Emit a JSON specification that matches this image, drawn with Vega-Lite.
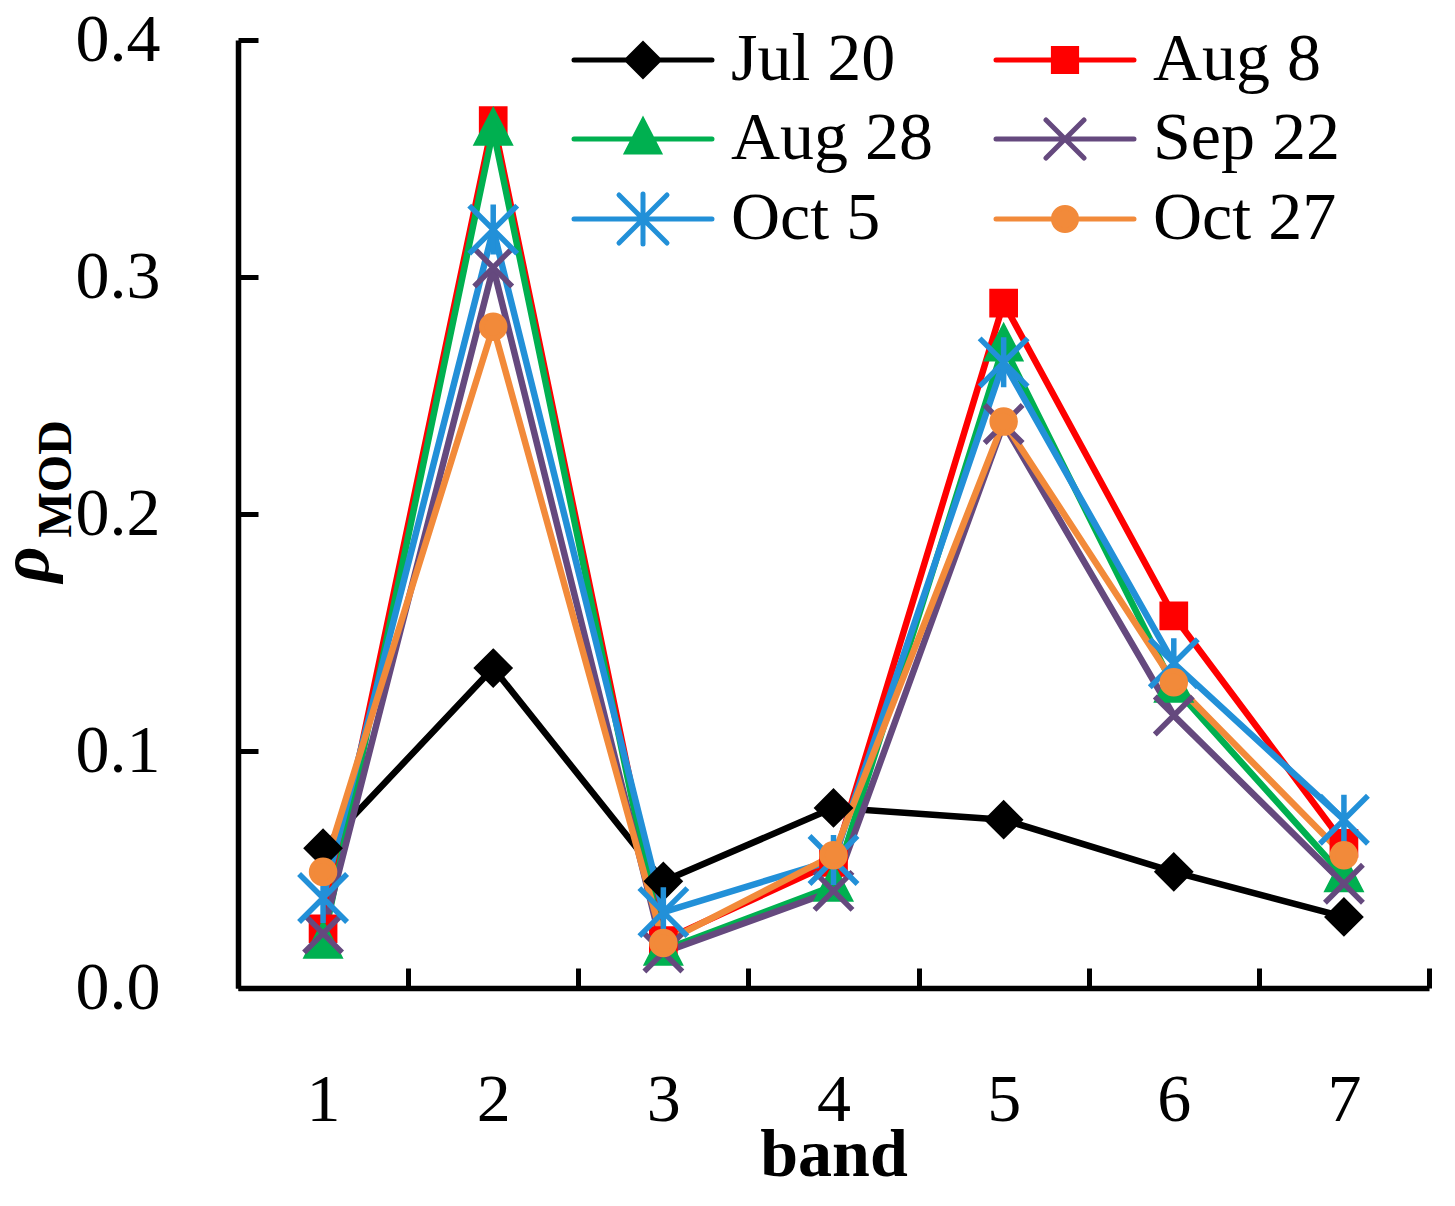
{
  "$schema": "https://vega.github.io/schema/vega-lite/v6.json",
  "width": 1191,
  "height": 948,
  "autosize": {"type": "none"},
  "padding": {"left": 238, "top": 40, "right": 26, "bottom": 218},
  "background": "white",
  "config": {"view": {"stroke": null}},
  "data": {"values": [
    {"band": 1, "date": "Jul 20", "v": 0.059}, {"band": 2, "date": "Jul 20", "v": 0.135}, {"band": 3, "date": "Jul 20", "v": 0.045}, {"band": 4, "date": "Jul 20", "v": 0.076}, {"band": 5, "date": "Jul 20", "v": 0.071}, {"band": 6, "date": "Jul 20", "v": 0.049}, {"band": 7, "date": "Jul 20", "v": 0.030},
    {"band": 1, "date": "Aug 8", "v": 0.025}, {"band": 2, "date": "Aug 8", "v": 0.366}, {"band": 3, "date": "Aug 8", "v": 0.020}, {"band": 4, "date": "Aug 8", "v": 0.053}, {"band": 5, "date": "Aug 8", "v": 0.289}, {"band": 6, "date": "Aug 8", "v": 0.157}, {"band": 7, "date": "Aug 8", "v": 0.061},
    {"band": 1, "date": "Aug 28", "v": 0.019}, {"band": 2, "date": "Aug 28", "v": 0.362}, {"band": 3, "date": "Aug 28", "v": 0.016}, {"band": 4, "date": "Aug 28", "v": 0.043}, {"band": 5, "date": "Aug 28", "v": 0.271}, {"band": 6, "date": "Aug 28", "v": 0.127}, {"band": 7, "date": "Aug 28", "v": 0.047},
    {"band": 1, "date": "Sep 22", "v": 0.023}, {"band": 2, "date": "Sep 22", "v": 0.304}, {"band": 3, "date": "Sep 22", "v": 0.015}, {"band": 4, "date": "Sep 22", "v": 0.041}, {"band": 5, "date": "Sep 22", "v": 0.238}, {"band": 6, "date": "Sep 22", "v": 0.115}, {"band": 7, "date": "Sep 22", "v": 0.044},
    {"band": 1, "date": "Oct 5", "v": 0.038}, {"band": 2, "date": "Oct 5", "v": 0.320}, {"band": 3, "date": "Oct 5", "v": 0.032}, {"band": 4, "date": "Oct 5", "v": 0.054}, {"band": 5, "date": "Oct 5", "v": 0.264}, {"band": 6, "date": "Oct 5", "v": 0.137}, {"band": 7, "date": "Oct 5", "v": 0.071},
    {"band": 1, "date": "Oct 27", "v": 0.049}, {"band": 2, "date": "Oct 27", "v": 0.279}, {"band": 3, "date": "Oct 27", "v": 0.019}, {"band": 4, "date": "Oct 27", "v": 0.056}, {"band": 5, "date": "Oct 27", "v": 0.239}, {"band": 6, "date": "Oct 27", "v": 0.129}, {"band": 7, "date": "Oct 27", "v": 0.056}
  ]},
  "encoding": {
    "x": {
      "field": "band", "type": "ordinal",
      "scale": {"type": "band", "paddingInner": 0, "paddingOuter": 0},
      "axis": {
        "title": "band", "titleFont": "Liberation Serif", "titleFontWeight": "bold", "titleFontSize": 68, "titleColor": "black",
        "titleBaseline": "alphabetic", "titleY": 187,
        "labelAngle": 0, "labelFont": "Liberation Serif", "labelFontSize": 68, "labelColor": "black", "labelPadding": 98,
        "tickBand": "extent", "tickSize": -20, "tickWidth": 5, "tickColor": "black",
        "domainWidth": 5.5, "domainColor": "black", "grid": false
      }
    },
    "color": {
      "field": "date", "type": "nominal",
      "scale": {"domain": ["Jul 20", "Aug 8", "Aug 28", "Sep 22", "Oct 5", "Oct 27"], "range": ["#000000", "#FF0000", "#00B050", "#65497E", "#2290D8", "#F28A3A"]},
      "legend": {
        "orient": "none", "legendX": 371, "legendY": -14, "columns": 2, "direction": "horizontal", "columnPadding": 52, "rowPadding": 11, "title": null, "padding": 0,
        "labelFont": "Liberation Serif", "labelFontSize": 68, "labelColor": "black", "labelLimit": 500, "labelOffset": 54,
        "symbolSize": 1600, "symbolStrokeWidth": 5, "symbolOffset": 0,
        "encode": {"symbols": {"update": {
          "shape": {"signal": "datum.value === 'Jul 20' ? 'M-3.45,0H3.45M0,-0.8L0.8,0L0,0.8L-0.8,0Z' : datum.value === 'Aug 8' ? 'M-3.45,0H3.45M-0.58,-0.58H0.58V0.58H-0.58Z' : datum.value === 'Aug 28' ? 'M-3.45,0H3.45M0,-0.9L0.8,0.65L-0.8,0.65Z' : datum.value === 'Sep 22' ? 'M-3.45,0H3.45M-0.95,-0.95L0.95,0.95M-0.95,0.95L0.95,-0.95' : datum.value === 'Oct 5' ? 'M-3.45,0H3.45M-1.2,-1.2L1.2,1.2M-1.2,1.2L1.2,-1.2M0,-1.25L0,1.25' : 'M-3.45,0H3.45M-0.575,0A0.575,0.575,0,1,1,0.575,0A0.575,0.575,0,1,1,-0.575,0Z'"},
          "fill": {"signal": "scale('color', datum.value)"},
          "stroke": {"signal": "scale('color', datum.value)"},
          "strokeWidth": {"value": 5},
          "size": {"value": 1600},
          "opacity": {"value": 1},
          "strokeCap": {"value": "round"}
        }}}
      }
    }
  },
  "layer": [
    {
      "mark": {"type": "line", "strokeWidth": 6.5},
      "encoding": {
        "y": {
          "field": "v", "type": "quantitative",
          "scale": {"domain": [0, 0.4], "nice": false, "zero": true},
          "axis": {
            "title": "ρ", "titleFont": "Liberation Serif", "titleFontStyle": "italic", "titleFontWeight": "bold", "titleFontSize": 70, "titleColor": "black",
            "titleAngle": 270, "titleAlign": "left", "titleBaseline": "alphabetic", "titleX": -191, "titleY": 542,
            "values": [0, 0.1, 0.2, 0.3, 0.4], "format": ".1f",
            "labelFont": "Liberation Serif", "labelFontSize": 68, "labelColor": "black", "labelPadding": 98,
            "tickSize": -20, "tickWidth": 5, "tickColor": "black",
            "domainWidth": 5.5, "domainColor": "black", "grid": false
          }
        }
      }
    },
    {
      "mark": {
        "type": "point", "filled": true, "size": 1600, "strokeWidth": 5.5, "opacity": 1,
        "shape": {"expr": "datum.date === 'Jul 20' ? 'M0,-0.8L0.8,0L0,0.8L-0.8,0Z' : datum.date === 'Aug 8' ? 'M-0.58,-0.58H0.58V0.58H-0.58Z' : datum.date === 'Aug 28' ? 'M0,-0.9L0.8,0.65L-0.8,0.65Z' : datum.date === 'Sep 22' ? 'M-0.95,-0.95L0.95,0.95M-0.95,0.95L0.95,-0.95' : datum.date === 'Oct 5' ? 'M-1.2,-1.2L1.2,1.2M-1.2,1.2L1.2,-1.2M0,-1.25L0,1.25' : 'M-0.575,0A0.575,0.575,0,1,1,0.575,0A0.575,0.575,0,1,1,-0.575,0Z'"},
        "stroke": {"expr": "scale('color', datum.date)"}
      },
      "encoding": {
        "y": {
          "field": "v", "type": "quantitative",
          "scale": {"domain": [0, 0.4], "nice": false, "zero": true},
          "axis": {
            "orient": "left", "title": "MOD", "titleFont": "Liberation Serif", "titleFontWeight": "bold", "titleFontSize": 48, "titleColor": "black",
            "titleAngle": 270, "titleAlign": "left", "titleBaseline": "alphabetic", "titleX": -168, "titleY": 497,
            "labels": false, "ticks": false, "domain": false, "grid": false
          }
        }
      }
    }
  ],
  "resolve": {"axis": {"y": "independent"}}
}
